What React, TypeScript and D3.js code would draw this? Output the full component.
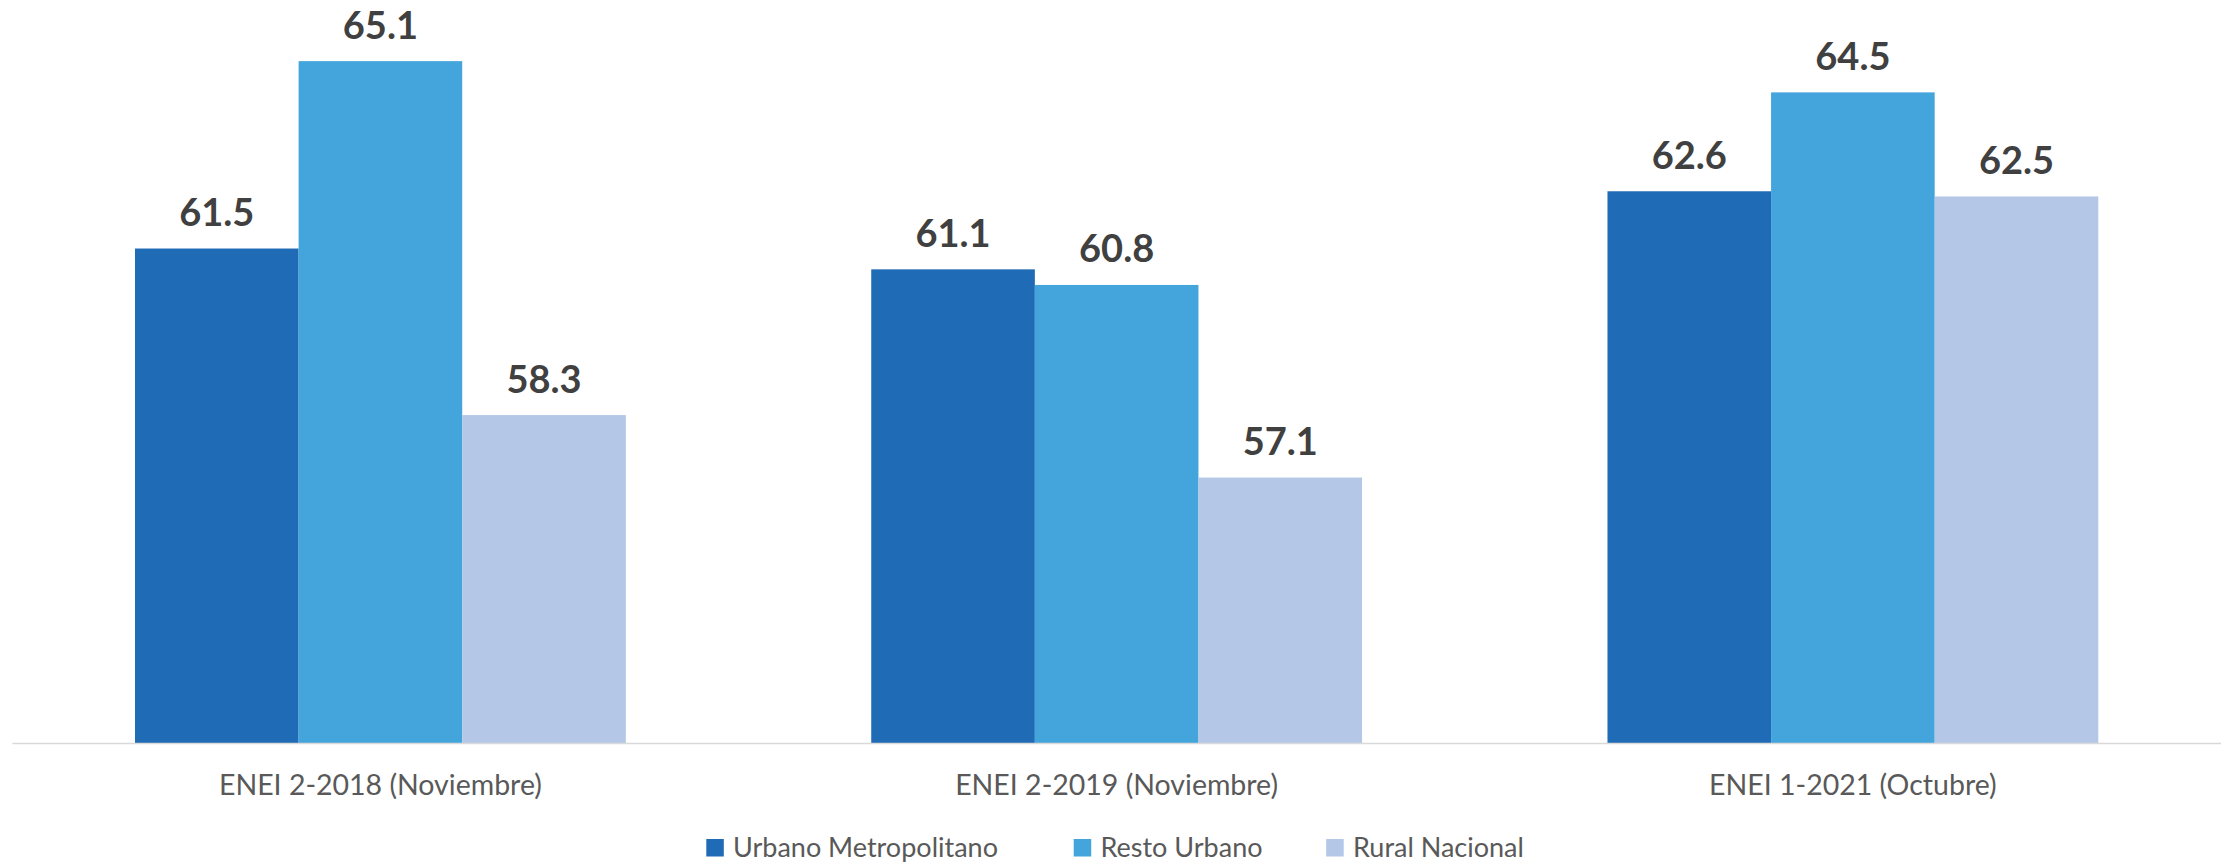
import React from "react";
import * as d3 from "d3";

const categories = ["ENEI 2-2018 (Noviembre)", "ENEI 2-2019 (Noviembre)", "ENEI 1-2021 (Octubre)"];
const seriesNames = ["Urbano Metropolitano", "Resto Urbano", "Rural Nacional"];
const urbanoMetropolitano = [61.5, 61.1, 62.6];
const restoUrbano = [65.1, 60.8, 64.5];
const ruralNacional = [58.3, 57.1, 62.5];
const colors = ["#1F6BB5", "#43A5DC", "#B4C7E7"];

const W = 2226;
const H = 864;

export default function App() {
  const seriesValues = [urbanoMetropolitano, restoUrbano, ruralNacional];
  const plotLeft = 12.3;
  const plotRight = 2221;
  const baseY = 743;
  const x0 = d3.scaleBand<string>().domain(categories).range([plotLeft, plotRight]).paddingInner(0).paddingOuter(0);
  const bw = x0.bandwidth();
  const barW = bw / 4.5;
  const x1 = d3.scaleBand<string>().domain(seriesNames).range([0, barW * 3]);
  const y = d3.scaleLinear().domain([52, 66]).range([baseY, baseY - 14 * 52.05]);

  const legendItems = [
    { sq: 706.3, tx: 733 },
    { sq: 1073.7, tx: 1100.5 },
    { sq: 1326.2, tx: 1353 },
  ];

  return (
    <svg width={W} height={H} style={{ position: "absolute", left: 0, top: 0, background: "#fff" }}>
      <rect x={0} y={0} width={W} height={H} fill="#fff" />
      {categories.map((c, ci) => {
        const gx = (x0(c) as number) + barW * 0.75;
        return (
          <g key={c}>
            {seriesNames.map((s, si) => {
              const v = seriesValues[si][ci];
              const bx = gx + (x1(s) as number);
              return (
                <g key={s}>
                  <rect x={bx} y={y(v)} width={barW} height={baseY - y(v)} fill={colors[si]} />
                  <text
                    x={bx + barW / 2}
                    y={y(v) - 22.5}
                    textAnchor="middle"
                    fontFamily="Lato, 'Open Sans', sans-serif"
                    fontWeight="bold"
                    fontSize={38}
                    fill="#404040"
                  >
                    {v.toFixed(1)}
                  </text>
                </g>
              );
            })}
            <text
              x={(x0(c) as number) + bw / 2}
              y={795}
              textAnchor="middle"
              fontFamily="Lato, 'Open Sans', sans-serif"
              fontSize={28.5}
              fill="#595959"
            >
              {c}
            </text>
          </g>
        );
      })}
      <line x1={plotLeft} x2={plotRight} y1={baseY + 0.5} y2={baseY + 0.5} stroke="#D9D9D9" strokeWidth={1.5} />
      {seriesNames.map((s, si) => (
        <g key={s}>
          <rect x={legendItems[si].sq} y={839} width={17.5} height={17.5} fill={colors[si]} />
          <text
            x={legendItems[si].tx}
            y={856.5}
            fontFamily="Lato, 'Open Sans', sans-serif"
            fontSize={27}
            fill="#595959"
          >
            {s}
          </text>
        </g>
      ))}
    </svg>
  );
}
